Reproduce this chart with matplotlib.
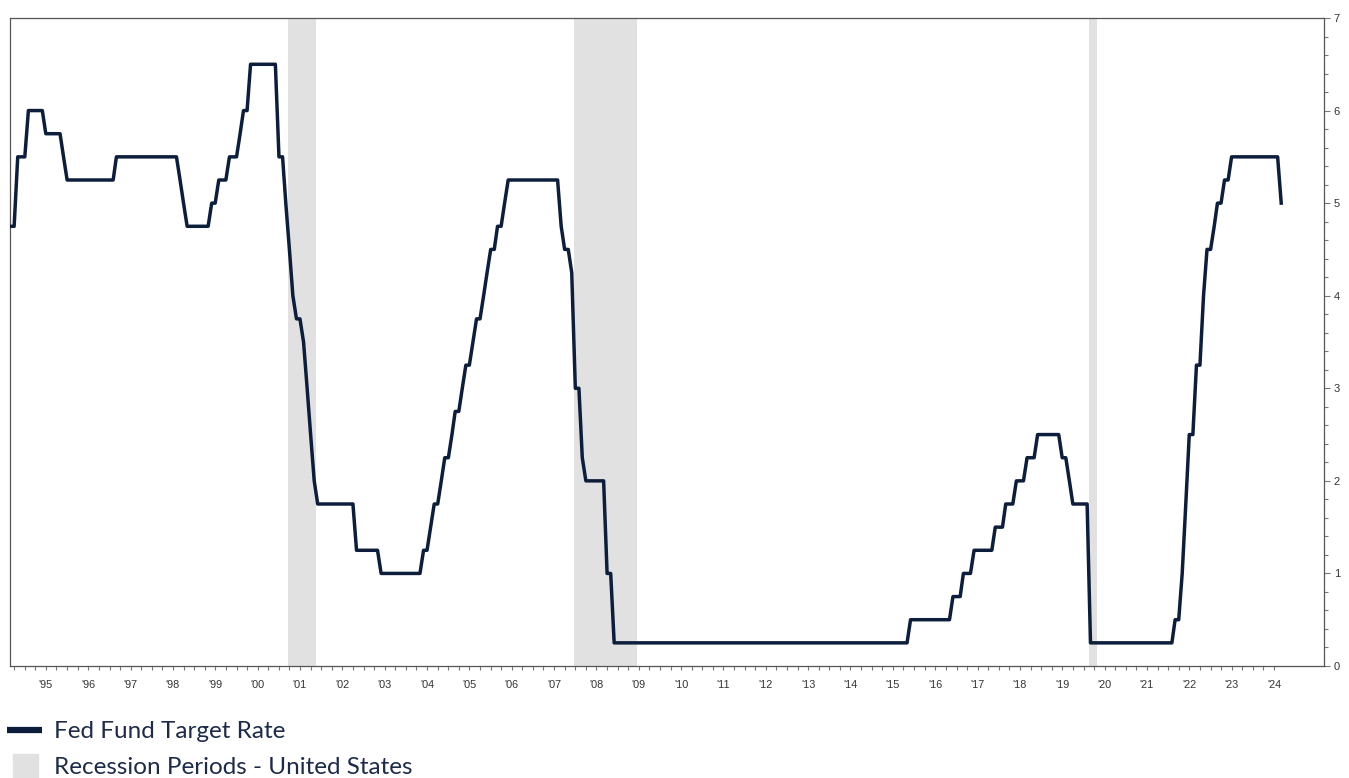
import matplotlib
matplotlib.use("Agg")
import matplotlib.pyplot as plt
from matplotlib.lines import Line2D
from matplotlib.ticker import MultipleLocator
import numpy as np
import pandas as pd

# Fed funds target rate (upper bound), month-end values from Sep 1994,
# written as level / number of months held at that level
rate_levels = [4.75, 5.5, 6.0, 5.75, 5.5, 5.25, 5.5, 5.25, 5.0, 4.75,
               5.0, 5.25, 5.5, 5.75, 6.0, 6.5,
               5.5, 5.0, 4.5, 4.0, 3.75, 3.5, 3.0, 2.5, 2.0, 1.75,
               1.25, 1.0, 1.25, 1.5, 1.75, 2.0, 2.25, 2.5, 2.75, 3.0,
               3.25, 3.5, 3.75, 4.0, 4.25, 4.5, 4.75, 5.0, 5.25,
               4.75, 4.5, 4.25, 3.0, 2.25, 2.0, 1.0, 0.25,
               0.5, 0.75, 1.0, 1.25, 1.5, 1.75, 2.0, 2.25, 2.5,
               2.25, 2.0, 1.75, 0.25,
               0.5, 1.0, 1.75, 2.5, 3.25, 4.0, 4.5, 4.75, 5.0, 5.25, 5.5, 5.0]
months_at_level = [2, 3, 5, 5, 1, 14, 18, 1, 1, 7,
                   2, 3, 3, 1, 2, 8,
                   2, 1, 1, 1, 2, 1, 1, 1, 1, 11,
                   7, 12, 2, 1, 2, 1, 2, 1, 2, 1,
                   2, 1, 2, 1, 1, 2, 2, 1, 15,
                   1, 2, 1, 2, 1, 6, 2, 84,
                   12, 3, 3, 6, 3, 3, 3, 3, 7,
                   2, 1, 5, 24,
                   2, 1, 1, 2, 2, 1, 2, 1, 2, 2, 14, 1]
first_month = "1994-09-01"

recession_starts = ["2001-03-18", "2007-12-20", "2020-02-17"]
recession_ends = ["2001-11-20", "2009-06-15", "2020-04-27"]

label_years = list(range(1995, 2025))

NAVY = "#0c1e3c"
GREY_BAND = "#e1e1e1"
TEXT = "#1d2b49"

rates = np.repeat(rate_levels, months_at_level)
dates = pd.date_range(first_month, periods=len(rates), freq="MS")

plt.rcParams["font.family"] = ["Liberation Sans", "DejaVu Sans"]

fig = plt.figure(figsize=(13.49, 7.78), dpi=100)
ax = fig.add_axes([9.5 / 1349, 1 - 666 / 778, (1324 - 9.5) / 1349, (666 - 18) / 778])

for s, e in zip(recession_starts, recession_ends):
    ax.axvspan(pd.Timestamp(s), pd.Timestamp(e), color=GREY_BAND, lw=0, zorder=1)

ax.plot(dates, rates, color=NAVY, lw=2.5, zorder=3)

ax.set_xlim(pd.Timestamp("1994-08-22"), pd.Timestamp("2025-09-05"))
ax.set_ylim(0, 7)

# x axis: quarterly ticks, year labels mid-year
label_pos = [pd.Timestamp(f"{y}-07-01") for y in label_years]
ax.set_xticks(label_pos)
ax.set_xticklabels([f"'{y % 100:02d}" for y in label_years])
ax.set_xticks(pd.date_range("1994-10-01", "2024-07-01", freq="QS-JAN"), minor=True)
ax.tick_params(axis="x", which="both", length=3, width=0.8, color="#777777",
               labelsize=7.8, labelcolor="#333333", pad=7)

# y axis on the right
ax.yaxis.tick_right()
ax.set_yticks(range(0, 8))
ax.yaxis.set_minor_locator(MultipleLocator(0.2))
ax.tick_params(axis="y", which="major", length=4, width=0.8, color="#777777",
               labelsize=8, labelcolor="#333333", pad=3)
ax.tick_params(axis="y", which="minor", length=3, width=0.8, color="#777777")

for sp in ax.spines.values():
    sp.set_color("#555555")
    sp.set_linewidth(0.9)

handles = [Line2D([0], [0], color=NAVY, lw=4.5, solid_capstyle="butt"),
           Line2D([0], [0], color=GREY_BAND, marker="s", markersize=18, lw=0)]
fig.legend(handles, ["Fed Fund Target Rate", "Recession Periods - United States"],
           loc="upper left", bbox_to_anchor=(7 / 1349, 1 - 721 / 778),
           frameon=False, handlelength=1.45, handletextpad=0.5,
           labelspacing=0.62, borderpad=0, borderaxespad=0,
           prop={"family": ["Lato", "DejaVu Sans"], "size": 17.5},
           labelcolor=TEXT)

fig.savefig("out.png", dpi=100)
